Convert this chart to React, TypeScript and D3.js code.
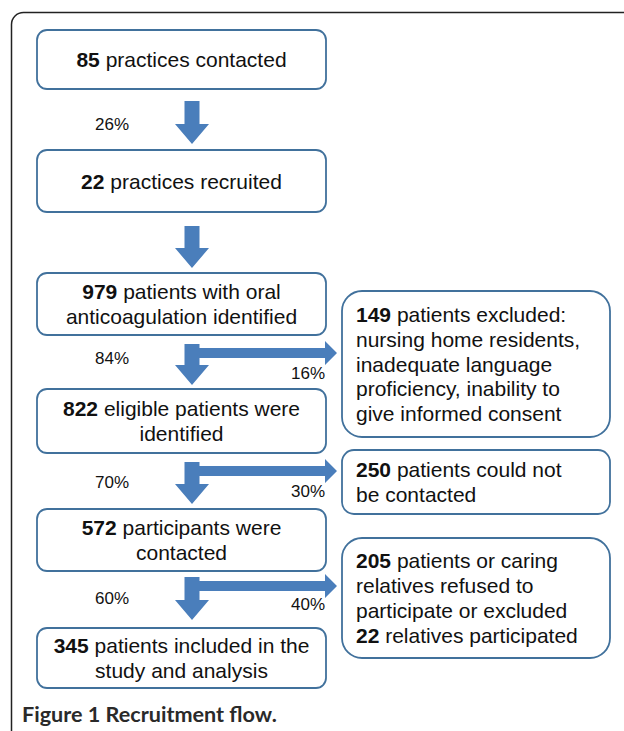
import React from "react";
import * as d3 from "d3";

// ---- data ----
const mainCounts = ["85", "22", "979", "822", "572", "345"];
const mainText = [
  ["practices contacted"],
  ["practices recruited"],
  ["patients with oral", "anticoagulation identified"],
  ["eligible patients were", "identified"],
  ["participants were", "contacted"],
  ["patients included in the", "study and analysis"],
];
const downPercents = ["26%", "", "84%", "70%", "60%"];
const sideCounts = ["149", "250", "205"];
const sideText = [
  ["patients excluded:", "nursing home residents,", "inadequate language", "proficiency, inability to", "give informed consent"],
  ["patients could not", "be contacted"],
  ["patients or caring", "relatives refused to", "participate or excluded", "**22** relatives participated"],
];
const sidePercents = ["16%", "30%", "40%"];
const sideFrom = [2, 3, 4]; // arrow index that branches
const caption = ["Figure 1", "Recruitment flow."];

// ---- layout ----
const mainTop = [30, 150, 273, 389, 509, 628];
const mainBottom = [89, 212, 335, 453, 571, 688];
const sideTop = [291, 450, 538];
const sideBottom = [437, 514, 658];
const arrowTop = [101, 226, 344, 462, 577];
const arrowTip = [144, 268, 385, 504, 620];
const leftPctY = [130, 0, 364, 488, 604];
const rightPctY = [379, 497, 610];
const MX0 = 37, MX1 = 326, SX0 = 342, SX1 = 610;
const ARROW_X = 192;
const FONT = "'Liberation Sans', Arial, sans-serif";
const BOX_STROKE = "#41719C";
const ARROW_FILL = "#4A7EBB";
const LINE_H = 24.8;
const FS = 21;

function Rich({ x, y, text, anchor, size }: { x: number; y: number; text: string; anchor: string; size: number }) {
  const parts = text.split(/(\*\*[^*]+\*\*)/).filter((p) => p.length);
  return (
    <text x={x} y={y} textAnchor={anchor} fontFamily={FONT} fontSize={size} fill="#111">
      {parts.map((p, i) =>
        p.startsWith("**") ? (
          <tspan key={i} fontWeight="bold">{p.slice(2, -2)}</tspan>
        ) : (
          <tspan key={i}>{p}</tspan>
        )
      )}
    </text>
  );
}

export default function App() {
  const W = 624, H = 731;
  const sx = d3.scaleLinear().domain([0, 1]).range([MX0, MX1]);
  const cx = sx(0.5);

  const downArrow = (top: number, tip: number) => {
    const sw = 7.5, hw = 17, hl = 20;
    const p = d3.path();
    p.moveTo(ARROW_X - sw, top);
    p.lineTo(ARROW_X + sw, top);
    p.lineTo(ARROW_X + sw, tip - hl);
    p.lineTo(ARROW_X + hw, tip - hl);
    p.lineTo(ARROW_X, tip);
    p.lineTo(ARROW_X - hw, tip - hl);
    p.lineTo(ARROW_X - sw, tip - hl);
    p.closePath();
    return p.toString();
  };
  const sideArrow = (top: number) => {
    const y0 = top + 4, th = 10, x0 = ARROW_X + 6, xh = 325, xt = 337, hh = 12;
    const p = d3.path();
    p.moveTo(x0, y0);
    p.lineTo(xh, y0);
    p.lineTo(xh, y0 + th / 2 - hh);
    p.lineTo(xt, y0 + th / 2);
    p.lineTo(xh, y0 + th / 2 + hh);
    p.lineTo(xh, y0 + th);
    p.lineTo(x0, y0 + th);
    p.closePath();
    return p.toString();
  };

  return (
    <svg width={W} height={H} style={{ position: "absolute", left: 0, top: 0, background: "#fff" }}>
      <rect x={11.5} y={12.5} width={660} height={800} rx={12} fill="none" stroke="#222" strokeWidth={1.5} />
      {mainCounts.map((c, i) => {
        const t = mainTop[i], b = mainBottom[i];
        const mid = (t + b) / 2;
        const lines = mainText[i];
        const y0 = mid - ((lines.length - 1) * LINE_H) / 2;
        return (
          <g key={"m" + i}>
            <rect x={MX0} y={t} width={MX1 - MX0} height={b - t} rx={10} fill="#fff" stroke={BOX_STROKE} strokeWidth={1.8} />
            {lines.map((l, j) => (
              <Rich key={j} x={cx} y={y0 + j * LINE_H + 7.5} anchor="middle" size={FS} text={j === 0 ? `**${c}** ${l}` : l} />
            ))}
          </g>
        );
      })}
      {downPercents.map((p, i) => (
        <g key={"a" + i}>
          <path d={downArrow(arrowTop[i], arrowTip[i])} fill={ARROW_FILL} />
          {p && (
            <text x={112} y={leftPctY[i]} textAnchor="middle" fontFamily={FONT} fontSize={17} fill="#111">{p}</text>
          )}
        </g>
      ))}
      {sideCounts.map((c, k) => {
        const i = sideFrom[k];
        const top = arrowTop[i];
        const t = sideTop[k], b = sideBottom[k];
        const lines = sideText[k];
        const mid = (t + b) / 2;
        const y0 = mid - ((lines.length - 1) * LINE_H) / 2;
        return (
          <g key={"s" + k}>
            <path d={sideArrow(top)} fill={ARROW_FILL} />
            <text x={325} y={rightPctY[k]} textAnchor="end" fontFamily={FONT} fontSize={17} fill="#111">{sidePercents[k]}</text>
            <rect x={SX0} y={t} width={SX1 - SX0} height={b - t} rx={lines.length > 2 ? 20 : 12} fill="#fff" stroke={BOX_STROKE} strokeWidth={1.8} />
            {lines.map((l, j) => (
              <Rich key={j} x={SX0 + 14} y={y0 + j * LINE_H + 7.5} anchor="start" size={FS} text={j === 0 ? `**${c}** ${l}` : l} />
            ))}
          </g>
        );
      })}
      <text x={22} y={722} fontFamily="Lato, 'Open Sans', sans-serif" fontSize={21.6} fontWeight="bold" fill="#2a2a2a">
        {caption[0]} {caption[1]}
      </text>
    </svg>
  );
}
